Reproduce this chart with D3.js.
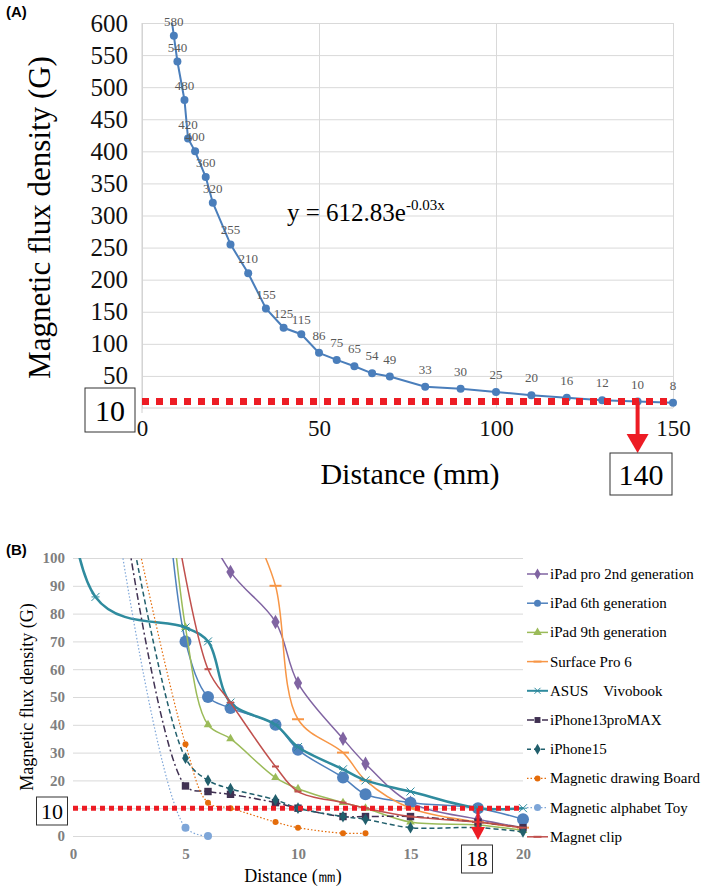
<!DOCTYPE html>
<html>
<head>
<meta charset="utf-8">
<script src="https://cdn.jsdelivr.net/npm/d3@7"></script>
<style>
body{margin:0;background:#fff;}
svg text{font-family:"Liberation Serif","Times New Roman",serif;}
.panel-label{font-family:"Liberation Sans",Arial,sans-serif !important;font-weight:bold;font-size:15px;}
</style>
</head>
<body>
<div id="chart"></div>
<script>
// ---------- (A) single magnet, distance vs flux density
var distA = [8, 9, 10, 12, 13, 15, 18, 20, 25, 30, 35, 40, 45, 50, 55, 60, 65, 70, 80, 90, 100, 110, 120, 130, 140, 150];
var fluxA = [620, 580, 540, 480, 420, 400, 360, 320, 255, 210, 155, 125, 115, 86, 75, 65, 54, 49, 33, 30, 25, 20, 16, 12, 10, 8];
var ticksAY = [50, 100, 150, 200, 250, 300, 350, 400, 450, 500, 550, 600];
var ticksAX = [0, 50, 100, 150];
var limitA = 10, limitDistA = 140;

// ---------- (B) devices
var ipadProDist = [5, 7, 9, 10, 12, 13, 15, 18, 20];
var ipadProFlux = [125, 95, 77, 55, 35, 26, 12, 6, 3];
var ipad6Dist = [4, 5, 6, 7, 9, 10, 12, 13, 15, 18, 20];
var ipad6Flux = [140, 70, 50, 46, 40, 31, 21, 15, 12, 10, 6];
var ipad9Dist = [4, 5, 6, 7, 9, 10, 12, 13, 15, 18, 20];
var ipad9Flux = [150, 75, 40, 35, 21, 17, 12, 10, 5, 4, 2];
var surfaceDist = [8, 9, 10, 12, 13, 15, 18, 20];
var surfaceFlux = [110, 90, 42, 30, 20, 10, 5, 3];
var asusDist = [0, 1, 5, 6, 7, 9, 10, 12, 13, 15, 18, 20];
var asusFlux = [420, 86, 75, 70, 48, 40, 32, 24, 20, 16, 10, 10];
var iphone13Dist = [2, 5, 6, 7, 9, 10, 12, 13, 15, 18, 20];
var iphone13Flux = [130, 18, 16, 15, 12, 10, 7, 7, 7, 5, 3];
var iphone15Dist = [2, 5, 6, 7, 9, 10, 12, 13, 15, 18, 20];
var iphone15Flux = [136, 28, 20, 17, 13, 10, 7, 6, 3, 3, 1.5];
var boardDist = [2, 5, 6, 7, 9, 10, 12, 13];
var boardFlux = [139, 33, 12, 10, 5, 3, 1, 1];
var toyDist = [2, 5, 6];
var toyFlux = [111, 3, 0];
var clipDist = [4, 6, 7, 9, 10, 12, 13, 15, 18, 20];
var clipFlux = [140, 60, 48, 25, 16, 12, 10, 7, 5, 3];
var ticksBY = [0, 10, 20, 30, 40, 50, 60, 70, 80, 90, 100];
var ticksBX = [0, 5, 10, 15, 20];
var limitB = 10, limitDistB = 18;

var seriesB = [
	{name: "iPad pro 2nd generation", x: ipadProDist, y: ipadProFlux, color: "#8064a2", width: 1.5, dash: null, marker: "diamond", size: 60},
	{name: "iPad 6th generation", x: ipad6Dist, y: ipad6Flux, color: "#4f81bd", width: 1.5, dash: null, marker: "circle", size: 6},
	{name: "iPad 9th generation", x: ipad9Dist, y: ipad9Flux, color: "#9bbb59", width: 1.5, dash: null, marker: "triangle", size: 32},
	{name: "Surface Pro 6", x: surfaceDist, y: surfaceFlux, color: "#f79646", width: 1.5, dash: null, marker: "dash", size: 6},
	{name: "ASUS\u3000Vivobook", x: asusDist, y: asusFlux, color: "#2f8b9e", width: 2.5, dash: null, marker: "star", size: 4},
	{name: "iPhone13proMAX", x: iphone13Dist, y: iphone13Flux, color: "#403152", width: 1.5, dash: "7,3,2,3", marker: "square", size: 55},
	{name: "iPhone15", x: iphone15Dist, y: iphone15Flux, color: "#215f6c", width: 1.5, dash: "5,3", marker: "diamond", size: 40},
	{name: "Magnetic drawing Board", x: boardDist, y: boardFlux, color: "#e46c0a", width: 1.2, dash: "1.5,2", marker: "circle", size: 3},
	{name: "Magnetic alphabet Toy", x: toyDist, y: toyFlux, color: "#7ea6d8", width: 1.2, dash: "1.5,2", marker: "circle", size: 4},
	{name: "Magnet clip", x: clipDist, y: clipFlux, color: "#c0504d", width: 1.5, dash: null, marker: "dash", size: 3.5}
];

var W = 709, H = 889;
var svg = d3.select("#chart").append("svg")
	.attr("width", W)
	.attr("height", H);

var red = "#ed1c24";

// ===================== panel A =====================
var xA = d3.scaleLinear().domain([0, 150]).range([142, 673]);
var yA = d3.scaleLinear().domain([0, 600]).range([408, 23]);
var gA = svg.append("g");

gA.append("text").attr("class", "panel-label").attr("x", 6).attr("y", 17).text("(A)");

// grid
gA.append("g")
	.attr("transform", "translate(" + xA(0) + ",0)")
	.call(d3.axisLeft(yA).tickValues(ticksAY).tickSize(-(xA(150) - xA(0))).tickFormat(""))
	.call(function(g){ g.select(".domain").remove(); g.selectAll("line").attr("stroke", "#d9d9d9"); });
gA.append("g")
	.attr("transform", "translate(0," + yA(0) + ")")
	.call(d3.axisBottom(xA).tickValues(ticksAX).tickSize(-(yA(0) - yA(600))).tickFormat(""))
	.call(function(g){ g.select(".domain").remove(); g.selectAll("line").attr("stroke", "#d9d9d9"); });
gA.append("line")
	.attr("x1", xA(0)).attr("x2", xA(150)).attr("y1", yA(0)).attr("y2", yA(0))
	.attr("stroke", "#d0d0d0");
gA.append("line")
	.attr("x1", xA(0)).attr("x2", xA(0)).attr("y1", yA(600)).attr("y2", yA(0) + 5)
	.attr("stroke", "#d0d0d0");

// tick labels
gA.append("g")
	.attr("transform", "translate(" + xA(0) + ",0)")
	.call(d3.axisLeft(yA).tickValues(ticksAY).tickSize(0).tickPadding(14))
	.call(function(g){
		g.select(".domain").remove();
		g.selectAll("text").attr("font-size", 25).attr("fill", "#111");
	});
gA.append("g")
	.attr("transform", "translate(0," + yA(0) + ")")
	.call(d3.axisBottom(xA).tickValues(ticksAX).tickSize(0).tickPadding(12))
	.call(function(g){
		g.select(".domain").remove();
		g.selectAll("text").attr("font-size", 23).attr("fill", "#111");
	});

// titles
gA.append("text")
	.attr("transform", "translate(50," + ((yA(0) + yA(600)) / 2 + 2) + ") rotate(-90)")
	.attr("text-anchor", "middle")
	.attr("font-size", 31)
	.text("Magnetic flux density (G)");
gA.append("text")
	.attr("x", 410).attr("y", 484)
	.attr("text-anchor", "middle")
	.attr("font-size", 30)
	.text("Distance (mm)");

// data
svg.append("clipPath").attr("id", "clipA")
	.append("rect").attr("x", xA(0) - 6).attr("y", yA(600)).attr("width", xA(150) - xA(0) + 12).attr("height", yA(0) - yA(600) + 6);

var ptsA = distA.map(function(d, i){ return {x: d, y: fluxA[i]}; });
var plotA = gA.append("g").attr("clip-path", "url(#clipA)");
plotA.append("path")
	.datum(ptsA)
	.attr("fill", "none")
	.attr("stroke", "#4a7ebb")
	.attr("stroke-width", 2)
	.attr("d", d3.line().x(function(d){ return xA(d.x); }).y(function(d){ return yA(d.y); }));
plotA.selectAll("circle")
	.data(ptsA)
	.enter().append("circle")
	.attr("cx", function(d){ return xA(d.x); })
	.attr("cy", function(d){ return yA(d.y); })
	.attr("r", 4)
	.attr("fill", "#4a7ebb");

gA.selectAll("text.val")
	.data(ptsA.filter(function(d){ return d.y <= 600; }))
	.enter().append("text")
	.attr("class", "val")
	.attr("x", function(d){ return xA(d.x); })
	.attr("y", function(d){ return yA(d.y) - (d.y > 100 ? 10 : 13); })
	.attr("text-anchor", "middle")
	.attr("font-size", 13)
	.attr("fill", "#595959")
	.text(function(d){ return d.y; });

var eq = gA.append("text").attr("x", 287).attr("y", 221).attr("font-size", 25).text("y = 612.83e");
eq.append("tspan").attr("font-size", 15).attr("dy", -11).text("-0.03x");

// threshold line and arrow
gA.append("line")
	.attr("x1", xA(0)).attr("x2", xA(150)).attr("y1", yA(limitA)).attr("y2", yA(limitA))
	.attr("stroke", red).attr("stroke-width", 7).attr("stroke-dasharray", "7,7");
gA.append("line")
	.attr("x1", xA(limitDistA)).attr("x2", xA(limitDistA)).attr("y1", yA(limitA)).attr("y2", yA(0) + 30)
	.attr("stroke", red).attr("stroke-width", 4);
gA.append("path")
	.attr("d", d3.line()([[xA(limitDistA) - 11, yA(0) + 26], [xA(limitDistA) + 11, yA(0) + 26], [xA(limitDistA), yA(0) + 45]]))
	.attr("fill", red);

// value boxes
function valueBox(g, cx, cy, w, h, fs, txt){
	g.append("rect").attr("x", cx - w / 2).attr("y", cy - h / 2).attr("width", w).attr("height", h)
		.attr("fill", "#fff").attr("stroke", "#333").attr("stroke-width", 1);
	g.append("text").attr("x", cx).attr("y", cy + fs * 0.35).attr("text-anchor", "middle")
		.attr("font-size", fs).text(txt);
}
valueBox(gA, 110, 410, 50, 44, 30, limitA);
valueBox(gA, 641, 474, 62, 42, 30, limitDistA);

// ===================== panel B =====================
var xB = d3.scaleLinear().domain([0, 20]).range([73, 523]);
var yB = d3.scaleLinear().domain([0, 100]).range([836, 558]);
var gB = svg.append("g");

gB.append("text").attr("class", "panel-label").attr("x", 6).attr("y", 555).text("(B)");

gB.append("g")
	.attr("transform", "translate(" + xB(0) + ",0)")
	.call(d3.axisLeft(yB).tickValues(ticksBY).tickSize(-(xB(20) - xB(0))).tickFormat(""))
	.call(function(g){ g.select(".domain").remove(); g.selectAll("line").attr("stroke", "#d9d9d9"); });

// the "10" tick sits under the boxed threshold label
gB.append("g")
	.attr("transform", "translate(" + (xB(0) - 6) + ",0)")
	.call(d3.axisLeft(yB).tickValues(ticksBY.filter(function(d){ return d !== limitB; })).tickSize(0).tickPadding(2))
	.call(function(g){
		g.select(".domain").remove();
		g.selectAll("text").attr("font-size", 15).attr("font-weight", "bold").attr("fill", "#7f7f7f");
	});
gB.append("g")
	.attr("transform", "translate(0," + yB(0) + ")")
	.call(d3.axisBottom(xB).tickValues(ticksBX).tickSize(0).tickPadding(12))
	.call(function(g){
		g.select(".domain").remove();
		g.selectAll("text").attr("font-size", 15).attr("font-weight", "bold").attr("fill", "#7f7f7f");
	});

gB.append("text")
	.attr("transform", "translate(33," + ((yB(0) + yB(100)) / 2) + ") rotate(-90)")
	.attr("text-anchor", "middle")
	.attr("font-size", 18)
	.text("Magnetic flux density (G)");
gB.append("text")
	.attr("x", 293).attr("y", 882)
	.attr("text-anchor", "middle")
	.attr("font-size", 18)
	.text("Distance (\u339c)");

svg.append("clipPath").attr("id", "clipB")
	.append("rect").attr("x", xB(0) - 8).attr("y", yB(100)).attr("width", xB(20) - xB(0) + 16).attr("height", yB(0) - yB(100) + 6);

function drawMarker(g, s){
	if(s.marker === "circle"){
		g.append("circle").attr("r", s.size).attr("fill", s.color);
	}
	else if(s.marker === "dash"){
		g.append("line").attr("x1", -s.size).attr("x2", s.size)
			.attr("stroke", s.color).attr("stroke-width", 2);
	}
	else if(s.marker === "star"){
		var r = s.size;
		g.append("path")
			.attr("d", "M" + (-r) + "," + (-r) + "L" + r + "," + r + "M" + (-r) + "," + r + "L" + r + "," + (-r) + "M" + (-r) + ",0L" + r + ",0")
			.attr("stroke", s.color).attr("stroke-width", 1);
	}
	else {
		var types = {diamond: d3.symbolDiamond, triangle: d3.symbolTriangle, square: d3.symbolSquare};
		g.append("path").attr("d", d3.symbol().type(types[s.marker]).size(s.size)).attr("fill", s.color);
	}
}

var lineB = d3.line()
	.curve(d3.curveCatmullRom.alpha(0.5))
	.x(function(d){ return xB(d.x); })
	.y(function(d){ return yB(d.y); });

var plotB = gB.append("g").attr("clip-path", "url(#clipB)");
seriesB.forEach(function(s){
	var pts = s.x.map(function(d, i){ return {x: d, y: s.y[i]}; });
	var sg = plotB.append("g");
	sg.append("path")
		.datum(pts)
		.attr("fill", "none")
		.attr("stroke", s.color)
		.attr("stroke-width", s.width)
		.attr("stroke-dasharray", s.dash)
		.attr("d", lineB);
	sg.selectAll("g.mk")
		.data(pts)
		.enter().append("g")
		.attr("class", "mk")
		.attr("transform", function(d){ return "translate(" + xB(d.x) + "," + yB(d.y) + ")"; })
		.each(function(){ drawMarker(d3.select(this), s); });
});

// threshold line and arrow
gB.append("line")
	.attr("x1", xB(0)).attr("x2", xB(20)).attr("y1", yB(limitB)).attr("y2", yB(limitB))
	.attr("stroke", red).attr("stroke-width", 5).attr("stroke-dasharray", "5,4");
gB.append("line")
	.attr("x1", xB(limitDistB)).attr("x2", xB(limitDistB)).attr("y1", yB(limitB)).attr("y2", yB(0) - 6)
	.attr("stroke", red).attr("stroke-width", 3);
gB.append("path")
	.attr("d", d3.line()([[xB(limitDistB) - 7, yB(0) - 9], [xB(limitDistB) + 7, yB(0) - 9], [xB(limitDistB), yB(0) + 4]]))
	.attr("fill", red);

valueBox(gB, 52, 811, 31, 28, 22, limitB);
valueBox(gB, 477, 859, 31, 28, 21, limitDistB);

// legend
var legend = gB.append("g")
	.selectAll("g")
	.data(seriesB)
	.enter().append("g")
	.attr("transform", function(d, i){ return "translate(527," + (574 + i * 29.2) + ")"; });
legend.append("line")
	.attr("x1", 0).attr("x2", 21)
	.attr("stroke", function(d){ return d.color; })
	.attr("stroke-width", function(d){ return Math.min(d.width, 2); })
	.attr("stroke-dasharray", function(d){ return d.dash ? (d.dash === "5,3" ? "4,3" : d.dash) : null; });
legend.append("g")
	.attr("transform", "translate(10.5,0)")
	.each(function(d){
		var m = Object.assign({}, d);
		if(m.marker === "circle") m.size = Math.min(m.size, 3.5);
		else if(m.marker === "star") m.size = 3;
		else if(m.marker === "dash") m.size = 4;
		else m.size = Math.min(m.size, 35);
		drawMarker(d3.select(this), m);
	});
legend.append("text")
	.attr("x", 23)
	.attr("y", 5)
	.attr("font-size", 15)
	.text(function(d){ return d.name; });
</script>
</body>
</html>
